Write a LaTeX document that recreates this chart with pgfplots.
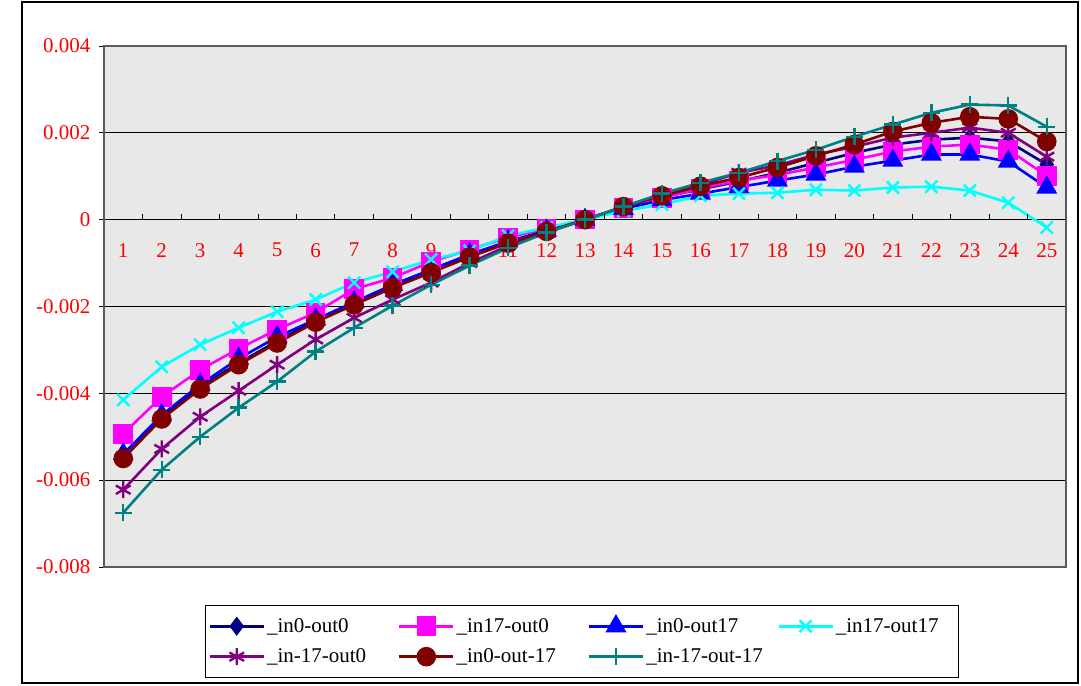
\documentclass[border=0pt]{standalone}
\usepackage{fontspec}
\setmainfont{Liberation Serif}
\usepackage{pgfplots}
\usepackage{pgfplotstable}
\pgfplotsset{compat=1.18}
\definecolor{xnavy}{RGB}{0,0,128}
\definecolor{xmag}{RGB}{255,0,255}
\definecolor{xblue}{RGB}{0,0,255}
\definecolor{xcyan}{RGB}{0,255,255}
\definecolor{xpurple}{RGB}{128,0,128}
\definecolor{xmaroon}{RGB}{128,0,0}
\definecolor{xteal}{RGB}{0,128,128}
\definecolor{bgc}{RGB}{232,232,232}
\definecolor{frm}{RGB}{90,90,90}
\pgfplotstableread{
x a b c d e f g
1 -0.0055 -0.00493 -0.0054 -0.00415 -0.00622 -0.0055 -0.00675
2 -0.00455 -0.00408 -0.0045 -0.00339 -0.00528 -0.00459 -0.00576
3 -0.00385 -0.00346 -0.0038 -0.00288 -0.00454 -0.0039 -0.005
4 -0.0033 -0.00297 -0.0032 -0.00249 -0.00394 -0.00334 -0.00433
5 -0.0028 -0.00253 -0.0027 -0.00212 -0.00334 -0.00284 -0.00373
6 -0.00232 -0.00214 -0.0023 -0.00184 -0.00276 -0.00236 -0.00304
7 -0.00192 -0.0016 -0.0019 -0.00145 -0.00226 -0.00196 -0.00249
8 -0.00153 -0.00134 -0.0015 -0.0012 -0.00184 -0.00157 -0.00198
9 -0.00118 -0.00097 -0.00115 -0.00092 -0.00145 -0.00122 -0.0015
10 -0.00083 -0.00069 -0.0008 -0.00072 -0.001 -0.00086 -0.00106
11 -0.00052 -0.00041 -0.0005 -0.00037 -0.0006 -0.00054 -0.00065
12 -0.00026 -0.0002 -0.00025 -0.00018 -0.0003 -0.00027 -0.0003
13 0 0 0 0 0 0 0
14 0.00028 0.00027 0.00025 0.0002 0.0003 0.0003 0.0003
15 0.00052 0.0005 0.00045 0.00035 0.00058 0.00055 0.0006
16 0.0007 0.00072 0.0006 0.00055 0.0008 0.00077 0.00085
17 0.00088 0.0009 0.00075 0.0006 0.00108 0.00097 0.00108
18 0.00108 0.00103 0.0009 0.00062 0.00125 0.0012 0.00135
19 0.00131 0.0012 0.00104 0.00069 0.0015 0.00147 0.00161
20 0.00154 0.00138 0.00122 0.00067 0.00168 0.00173 0.00191
21 0.00173 0.00157 0.00136 0.00074 0.00189 0.00203 0.00219
22 0.00184 0.00168 0.0015 0.00076 0.002 0.00223 0.00246
23 0.00189 0.00173 0.0015 0.00067 0.00212 0.00237 0.00265
24 0.0018 0.00161 0.00134 0.00039 0.002 0.00232 0.00263
25 0.00127 0.00101 0.00074 -0.00018 0.00145 0.0018 0.00214
}\data
\begin{document}
\begin{tikzpicture}
\useasboundingbox (0pt,0pt) rectangle (1081pt,685pt);
\draw[line width=1.2pt] (22pt,2pt) rectangle (1078pt,683pt);
\fill[bgc] (104pt,118pt) rectangle (1066pt,639pt);
\begin{axis}[
  at={(104pt,118pt)}, anchor=south west, scale only axis,
  width=962pt, height=521pt,
  xmin=0.5, xmax=25.5, ymin=-0.008, ymax=0.004,
  axis x line*=middle, axis y line*=left,
  axis line style={black, line width=0.9pt},
  xtick={1,...,25}, xtick style={draw=none},
  xticklabels={1,2,3,4,5,6,7,8,9,10,11,12,13,14,15,16,17,18,19,20,21,22,23,24,25},
  xticklabel style={yshift=-20pt},
  ytick={-0.008,-0.006,-0.004,-0.002,0,0.002,0.004},
  yticklabels={-0.008,-0.006,-0.004,-0.002,0,0.002,0.004},
  scaled y ticks=false,
  ytick align=outside, major tick length=5pt,
  ytick style={black, line width=0.8pt},
  yticklabel style={xshift=-5pt},
  tick label style={text=red, font=\fontsize{21}{25}\selectfont},
  ymajorgrids, major grid style={black, line width=0.8pt},
  legend columns=4,
  legend cell align=left,
  legend style={at={(0.105,-0.073)}, anchor=north west, draw=black, line width=0.9pt,
    font=\fontsize{21}{25}\selectfont, inner xsep=3pt, inner ysep=11pt, row sep=11pt,
    /tikz/every even column/.append style={column sep=0pt}},
  legend image code/.code={\draw[mark repeat=2,mark phase=2,#1] plot coordinates {(0pt,0pt) (27pt,0pt) (54pt,0pt)};},
]
\addplot[color=xnavy, line width=2.6pt, mark=diamond*, mark size=7.5pt, mark options={solid,fill=xnavy}] table[x=x,y=a]{\data};
\addlegendentry{\makebox[129pt][l]{\_in0-out0}}
\addplot[color=xmag, line width=2.6pt, mark=square*, mark size=8.5pt, mark options={solid,fill=xmag}] table[x=x,y=b]{\data};
\addlegendentry{\makebox[129pt][l]{\_in17-out0}}
\addplot[color=xblue, line width=2.6pt, mark=triangle*, mark size=9.5pt, mark options={solid,fill=xblue}] table[x=x,y=c]{\data};
\addlegendentry{\makebox[129pt][l]{\_in0-out17}}
\addplot[color=xcyan, line width=2.6pt, mark=x, mark size=8.5pt, mark options={solid,line width=2.4pt}] table[x=x,y=d]{\data};
\addlegendentry{\makebox[118pt][l]{\_in17-out17}}
\addplot[color=xpurple, line width=2.6pt, mark=asterisk, mark size=8.5pt, mark options={solid,line width=2.4pt}] table[x=x,y=e]{\data};
\addlegendentry{\makebox[129pt][l]{\_in-17-out0}}
\addplot[color=xmaroon, line width=2.6pt, mark=*, mark size=8.5pt, mark options={solid,fill=xmaroon}] table[x=x,y=f]{\data};
\addlegendentry{\makebox[129pt][l]{\_in0-out-17}}
\addplot[color=xteal, line width=2.6pt, mark=+, mark size=8.5pt, mark options={solid,line width=2.4pt}] table[x=x,y=g]{\data};
\addlegendentry{\makebox[129pt][l]{\_in-17-out-17}}
\pgfplotsinvokeforeach{0.5,1.5,2.5,3.5,4.5,5.5,6.5,7.5,8.5,9.5,10.5,11.5,12.5,13.5,14.5,15.5,16.5,17.5,18.5,19.5,20.5,21.5,22.5,23.5,24.5,25.5}{
  \draw[black, line width=0.8pt] (axis cs:#1,0) -- ++(0pt,6pt);
}
\end{axis}
\draw[frm, line width=1.6pt] (104pt,118pt) rectangle (1066pt,639pt);
\end{tikzpicture}
\end{document}
